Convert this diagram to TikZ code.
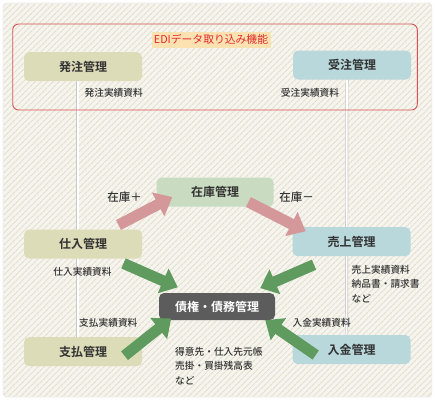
\documentclass[tikz,border=0pt]{standalone}
\usepackage{fontspec}
\setmainfont{Noto Sans CJK JP}[BoldFont={Noto Sans CJK JP Bold}]
\newfontfamily\docfont{Noto Sans CJK JP Medium}
\usepackage{xcolor}
\usetikzlibrary{positioning,calc,arrows.meta,backgrounds,patterns.meta}

\definecolor{panelbg}{HTML}{F6F4EE}
\definecolor{hatch}{HTML}{E3DECB}
\definecolor{panelline}{HTML}{D8D8D4}
\definecolor{boxolive}{HTML}{DDDCB9}
\definecolor{boxblue}{HTML}{B9D8DC}
\definecolor{boxgreen}{HTML}{C9DCC1}
\definecolor{boxdark}{HTML}{5C5C5C}
\definecolor{boxtext}{HTML}{333333}
\definecolor{arrowpink}{HTML}{D4979A}
\definecolor{arrowgreen}{HTML}{5F9B5F}
\definecolor{ediframe}{HTML}{D65252}
\definecolor{edibg}{HTML}{FBE2B0}
\definecolor{editext}{HTML}{E02A2A}
\definecolor{railgray}{HTML}{C8C8C8}

\begin{document}
\begin{tikzpicture}[x=1pt, y=-1pt,
    box/.style={rectangle, rounded corners=5pt, minimum width=118pt, minimum height=29pt, inner sep=0pt, text=boxtext, font=\fontsize{12}{14}\selectfont\bfseries},
    olive/.style={box, fill=boxolive},
    blue/.style={box, fill=boxblue},
    stock/.style={box, fill=boxgreen, minimum width=117pt},
    ledger/.style={box, fill=boxdark, text=white, minimum width=116pt, minimum height=27pt},
    doc/.style={inner sep=0pt, text=boxtext, font=\docfont\fontsize{9.7}{14.2}\selectfont, align=left},
    rail/.style={draw=railgray, double=white, double distance=1.6pt, line width=0.7pt},
    flow/.style={line width=11pt, -{Triangle[width=26pt,length=16pt]}}]
  \useasboundingbox (0,0) rectangle (435,400);

  % boxes
  \node[olive] (hacchu) at (83,66.7) {発注管理};
  \node[blue] (juchu) at (352,65) {受注管理};
  \node[stock] (zaiko) at (215,192) {在庫管理};
  \node[olive] (shiire) at (83,244) {仕入管理};
  \node[blue] (uriage) at (351.5,241.7) {売上管理};
  \node[ledger] (saiken) at (217,306.5) {債権・債務管理};
  \node[olive] (shiharai) at (83,351.7) {支払管理};
  \node[blue] (nyukin) at (351.5,349.5) {入金管理};

  \begin{scope}[on background layer]
    \draw[panelline, fill=panelbg, rounded corners=4pt] (3,3) rectangle (432,397);
    \fill[pattern={Lines[angle=45,distance=4pt,line width=1.1pt]}, pattern color=hatch, rounded corners=4pt] (3.5,3.5) rectangle (431.5,396.5);
    \draw[rail] ([xshift=-5.3pt]hacchu.south) -- ([xshift=-5.3pt]shiharai.north);
    \draw[rail] ([xshift=-5pt]juchu.south) -- ([xshift=-5pt]nyukin.north);
  \end{scope}

  % EDI
  \draw[ediframe, line width=0.9pt, rounded corners=6pt] (12.7,24) rectangle (417.3,110);
  \node[fill=edibg, text=editext, inner sep=0pt, minimum width=119pt, minimum height=16pt, font=\fontsize{10.8}{12}\selectfont] (edi) at (211,39.7) {EDIデータ取り込み機能};
  \node[doc] (hacchudoc) at (113.7,92.7) {発注実績資料};
  \node[doc] (juchudoc) at (310,92.7) {受注実績資料};

  % stock flow
  \draw[flow, arrowpink] ($(shiire.north east)+(-23.7,-4.3)$) -- ($(zaiko.west)+(16,5)$);
  \draw[flow, arrowpink] ($(zaiko.south east)+(-25.3,-4.7)$) -- ($(uriage.north west)+(13.4,4.3)$);
  \node[doc, font=\docfont\fontsize{11.5}{14}\selectfont] (plus) at (124.5,196.7) {在庫＋};
  \node[doc, font=\docfont\fontsize{11.5}{14}\selectfont] (minus) at (296.7,197) {在庫－};

  % ledger flow
  \draw[flow, arrowgreen] ($(shiire.south east)+(-18.7,4.7)$) -- ($(saiken.north west)+(19,-5.5)$);
  \draw[flow, arrowgreen] ($(uriage.south west)+(21.7,8.3)$) -- ($(saiken.north east)+(-15,-4.7)$);
  \draw[flow, arrowgreen] ($(shiharai.east)+(-17.7,4)$) -- ($(saiken.south west)+(12.4,-1.7)$);
  \draw[flow, arrowgreen] ($(nyukin.west)+(23.4,5.5)$) -- ($(saiken.south east)+(-10,0)$);

  \node[doc] (shiiredoc) at (82.5,271.7) {仕入実績資料};
  \node[doc, anchor=west] (uriagedoc) at (351.5,284) {売上実績資料\\納品書・請求書\\など};
  \node[doc] (shiharaidoc) at (108.3,323.3) {支払実績資料};
  \node[doc] (nyukindoc) at (321.7,323.3) {入金実績資料};
  \node[doc, anchor=west] (ledgerdoc) at (175,366) {得意先・仕入先元帳\\売掛・買掛残高表\\など};
\end{tikzpicture}
\end{document}
